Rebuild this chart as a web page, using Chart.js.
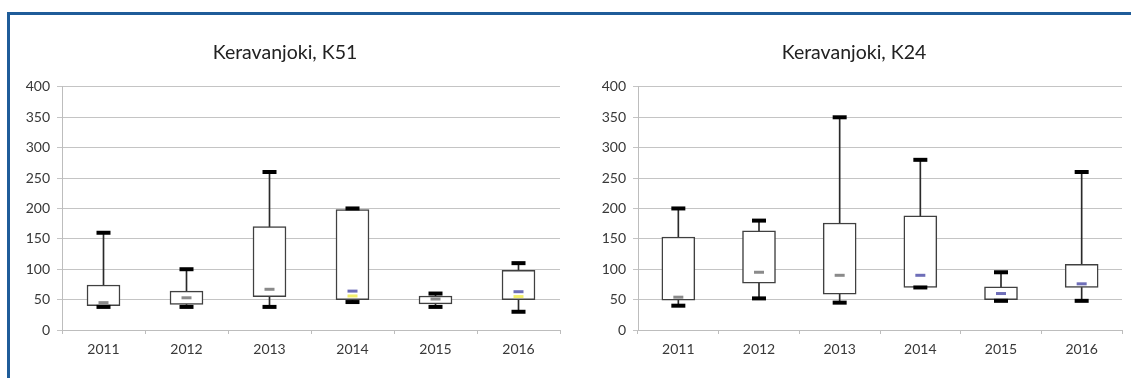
<!DOCTYPE html>
<html>
<head>
<meta charset="utf-8">
<script src="https://cdn.jsdelivr.net/npm/chart.js@4.4.1/dist/chart.umd.min.js"></script>
<style>
  html, body { margin: 0; padding: 0; background: #fff; overflow: hidden; width: 1131px; height: 378px; }
  #frame { position: absolute; left: 7px; top: 12px; width: 1200px; height: 400px; border: 3px solid #1f5c99; }
  canvas { position: absolute; top: 0; }
  #k51 { left: 10px; }
  #k24 { left: 586px; }
</style>
</head>
<body>
<div id="frame"></div>
<canvas id="k51" width="576" height="378"></canvas>
<canvas id="k24" width="558" height="378"></canvas>
<script>
const years = ["2011", "2012", "2013", "2014", "2015", "2016"];
const yTicks = [0, 50, 100, 150, 200, 250, 300, 350, 400];

// K51
const k51Min = [38, 38, 38, 46, 38, 30];
const k51Q1 = [40, 42, 55, 50, 43, 50];
const k51Q3 = [74, 64, 170, 198, 56, 98];
const k51Max = [160, 100, 260, 200, 60, 110];
const k51Mid = [45, 53, 67, 64, 51, 63];
const k51Low = [null, null, null, 56, null, 55];

// K24
const k24Min = [40, 52, 45, 70, 48, 48];
const k24Q1 = [49, 77, 59, 70, 50, 70];
const k24Q3 = [153, 163, 176, 188, 71, 108];
const k24Max = [200, 180, 350, 280, 95, 260];
const k24Mid = [54, 95, 90, 90, 60, 76];
const k24Low = [null, null, null, null, null, null];

const gray = "#8a8a8a";
const blue = "#6e6eb8";

function boxChart(canvas, title, mins, q1, q3, maxs, mids, lows, midColors, padRight) {
  const lower = mins.map((v, i) => [v, q1[i]]);
  const upper = maxs.map((v, i) => [q3[i], v]);
  const boxes = q1.map((v, i) => [v, q3[i]]);

  return new Chart(canvas, {
    data: {
      labels: years,
      datasets: [
        { type: "bar", data: lower, grouped: false, barThickness: 1, backgroundColor: "#2a2a2a", order: 5 },
        { type: "bar", data: upper, grouped: false, barThickness: 1, backgroundColor: "#2a2a2a", order: 5 },
        {
          type: "bar", data: boxes, grouped: false, barThickness: 33,
          backgroundColor: "#fff", borderColor: "#404040", borderWidth: 1.5,
          borderSkipped: false, order: 4,
        },
        {
          type: "line", data: maxs, showLine: false, pointStyle: "line",
          pointRadius: 7, pointBorderWidth: 4, pointBorderColor: "#000", order: 2,
        },
        {
          type: "line", data: mins, showLine: false, pointStyle: "line",
          pointRadius: 7, pointBorderWidth: 4, pointBorderColor: "#000", order: 2,
        },
        {
          type: "line", data: lows, showLine: false, pointStyle: "line",
          pointRadius: 5, pointBorderWidth: 3, pointBorderColor: "#f2ee6a", order: 1,
        },
        {
          type: "line", data: mids, showLine: false, pointStyle: "line",
          pointRadius: 5, pointBorderWidth: 3, pointBorderColor: midColors, order: 1,
        },
      ],
    },
    options: {
      responsive: false,
      animation: false,
      events: [],
      layout: { padding: { left: 0, right: padRight, top: 0, bottom: 0 } },
      plugins: {
        legend: { display: false },
        tooltip: { enabled: false },
        title: {
          display: true,
          text: title,
          color: "#222",
          font: { family: "Lato", size: 19.5, weight: "normal" },
          padding: { top: 41, bottom: 22.5 },
        },
      },
      scales: {
        x: {
          type: "category",
          offset: true,
          afterFit(scale) { scale.height = 48; },
          grid: { offset: true, drawOnChartArea: false, drawTicks: true, tickLength: 4, color: "#bdbdbd" },
          border: { color: "#bdbdbd" },
          ticks: { color: "#383838", font: { family: "Lato", size: 14 }, padding: 7 },
        },
        y: {
          min: 0,
          max: 400,
          afterFit(scale) { scale.width = 52; },
          afterBuildTicks(scale) { scale.ticks = yTicks.map(v => ({ value: v })); },
          grid: { color: "#c4c4c4", tickLength: 5 },
          border: { color: "#bdbdbd" },
          ticks: { color: "#383838", font: { family: "Lato", size: 14 }, padding: 7 },
        },
      },
    },
  });
}

boxChart(document.getElementById("k51"), "Keravanjoki, K51",
  k51Min, k51Q1, k51Q3, k51Max, k51Mid, k51Low,
  [gray, gray, gray, blue, gray, blue], 26);

boxChart(document.getElementById("k24"), "Keravanjoki, K24",
  k24Min, k24Q1, k24Q3, k24Max, k24Mid, k24Low,
  [gray, gray, gray, blue, blue, blue], 22);
</script>
</body>
</html>
